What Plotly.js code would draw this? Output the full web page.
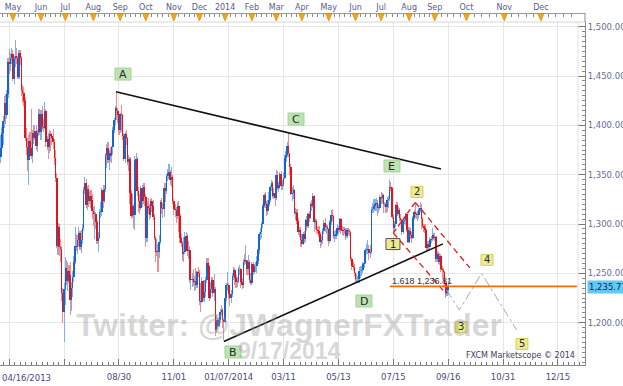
<!DOCTYPE html>
<html><head><meta charset="utf-8">
<script src="https://cdn.plot.ly/plotly-3.0.1.min.js"></script>
<style>html,body{margin:0;padding:0;background:#fff;}#chart{width:623px;height:386px;}</style>
</head><body><div id="chart"></div>
<script>
// Daily XAU/USD bars, index 0 = 04/16/2013 ... 368 = 09/16/2014
const openP = [
1352,1368,1377,1392,1404,1423,1411,1432,1464,1462,
1468,1472,1447,1467,1470,1468,1449,1473,1468,1436,
1433,1425,1387,1378,1365,1384,1377,1369,1392,1387,
1394,1379,1392,1412,1393,1412,1398,1397,1415,1383,
1386,1378,1391,1389,1387,1383,1367,1347,1278,1297,
1277,1275,1230,1211,1234,1255,1242,1252,1248,1223,
1235,1246,1262,1278,1277,1284,1291,1277,1284,1296,
1335,1342,1319,1336,1323,1328,1324,1313,1310,1310,
1302,1283,1286,1312,1312,1334,1323,1336,1370,1377,
1365,1372,1369,1378,1395,1405,1418,1415,1411,1395,
1412,1411,1389,1366,1391,1387,1363,1366,1331,1308,
1318,1309,1365,1366,1333,1323,1316,1337,1323,1338,
1327,1286,1318,1316,1309,1323,1318,1307,1286,1272,
1273,1272,1282,1322,1316,1315,1337,1333,1349,1352,
1353,1345,1348,1323,1315,1314,1308,1318,1308,1286,
1281,1270,1272,1287,1288,1273,1274,1243,1243,1244,
1241,1242,1238,1251,1250,1222,1221,1242,1225,1231,
1243,1261,1257,1225,1234,1243,1230,1234,1193,1203,
1197,1203,1211,1213,1203,1201,1225,1238,1238,1229,
1225,1229,1247,1253,1245,1241,1242,1254,1254,1241,
1238,1262,1264,1263,1254,1262,1243,1240,1260,1251,
1257,1257,1263,1274,1290,1292,1300,1318,1329,1320,
1313,1320,1324,1338,1342,1328,1331,1326,1350,1337,
1340,1351,1339,1340,1347,1367,1370,1379,1372,1358,
1330,1331,1335,1311,1311,1303,1292,1294,1284,1280,
1290,1285,1304,1298,1310,1306,1320,1318,1328,1302,
1303,1294,1293,1290,1282,1284,1293,1301,1297,1297,
1295,1283,1302,1309,1308,1288,1288,1290,1296,1294,
1305,1294,1293,1294,1294,1288,1294,1293,1292,1265,
1257,1256,1250,1244,1244,1244,1252,1252,1253,1260,
1261,1274,1274,1275,1271,1272,1314,1315,1318,1320,
1321,1316,1316,1327,1326,1329,1320,1320,1317,1324,
1325,1338,1337,1307,1296,1300,1319,1310,1314,1306,
1304,1292,1303,1304,1310,1294,1282,1293,1289,1286,
1306,1312,1310,1309,1309,1314,1316,1305,1298,1296,
1294,1276,1280,1277,1284,1285,1289,1286,1287,1265,
1270,1262,1268,1254,1253,1251,1240,1230,1233];
const highP = [
1386,1390,1398,1410,1430,1432,1436,1468,1477,1473,
1478,1476,1470,1487,1478,1470,1476,1476,1470,1441,
1439,1428,1397,1387,1390,1393,1417,1395,1400,1400,
1400,1395,1417,1417,1416,1420,1406,1424,1417,1389,
1392,1395,1394,1392,1396,1386,1375,1352,1301,1300,
1285,1278,1235,1240,1267,1264,1262,1258,1262,1241,
1252,1268,1297,1290,1289,1297,1293,1294,1300,1338,
1348,1346,1339,1340,1333,1334,1330,1317,1318,1312,
1304,1292,1315,1322,1337,1340,1340,1372,1381,1383,
1375,1378,1379,1398,1407,1420,1433,1418,1412,1413,
1421,1412,1392,1393,1395,1388,1370,1368,1334,1330,
1320,1369,1372,1368,1338,1330,1339,1340,1342,1342,
1330,1323,1326,1320,1325,1326,1324,1310,1288,1285,
1280,1289,1324,1326,1321,1342,1342,1351,1356,1361,
1355,1358,1350,1325,1320,1317,1322,1323,1310,1290,
1283,1287,1292,1292,1290,1283,1278,1250,1250,1254,
1247,1255,1252,1256,1253,1240,1246,1243,1243,1246,
1266,1266,1258,1241,1246,1246,1249,1236,1208,1206,
1205,1214,1218,1215,1204,1231,1240,1251,1240,1231,
1233,1250,1256,1255,1248,1246,1256,1258,1255,1245,
1265,1270,1279,1264,1269,1264,1250,1262,1262,1260,
1262,1268,1275,1292,1296,1302,1320,1331,1332,1323,
1324,1332,1340,1345,1344,1337,1333,1355,1354,1343,
1353,1354,1345,1352,1370,1374,1383,1392,1372,1361,
1338,1340,1336,1316,1315,1306,1297,1297,1290,1292,
1293,1305,1308,1311,1313,1322,1324,1331,1329,1306,
1305,1297,1298,1292,1288,1296,1304,1306,1300,1299,
1296,1304,1314,1315,1309,1293,1294,1300,1298,1306,
1306,1298,1297,1297,1296,1296,1296,1295,1293,1267,
1262,1260,1251,1249,1247,1256,1257,1257,1262,1264,
1276,1280,1284,1279,1279,1317,1321,1325,1325,1326,
1324,1320,1329,1332,1331,1330,1322,1321,1327,1328,
1345,1343,1338,1310,1303,1320,1322,1317,1316,1310,
1305,1305,1307,1311,1311,1297,1297,1296,1292,1308,
1314,1322,1312,1313,1316,1322,1320,1307,1300,1300,
1295,1283,1283,1287,1288,1296,1291,1291,1288,1273,
1272,1271,1270,1257,1255,1252,1242,1238,1242];
const lowP = [
1331,1362,1368,1380,1397,1401,1406,1428,1452,1455,
1462,1445,1442,1459,1462,1447,1447,1461,1430,1423,
1420,1384,1370,1354,1340,1372,1366,1362,1381,1385,
1375,1373,1389,1390,1385,1395,1393,1396,1378,1375,
1366,1372,1374,1380,1376,1360,1343,1276,1269,1268,
1262,1222,1200,1180,1218,1238,1232,1240,1208,1212,
1226,1241,1259,1273,1270,1278,1274,1271,1280,1293,
1330,1316,1314,1317,1320,1316,1305,1298,1285,1295,
1280,1272,1285,1306,1308,1316,1321,1332,1357,1362,
1355,1363,1362,1370,1392,1400,1405,1402,1390,1392,
1393,1385,1364,1362,1380,1360,1354,1320,1306,1306,
1296,1294,1360,1328,1312,1310,1314,1317,1320,1318,
1277,1282,1310,1304,1306,1312,1304,1284,1262,1268,
1251,1266,1280,1310,1306,1307,1322,1330,1344,1346,
1340,1338,1320,1309,1307,1301,1305,1292,1281,1277,
1263,1262,1270,1278,1268,1265,1240,1233,1236,1237,
1232,1233,1235,1246,1218,1211,1220,1222,1221,1226,
1240,1253,1222,1224,1230,1226,1222,1187,1190,1194,
1196,1200,1208,1195,1182,1200,1222,1232,1224,1217,
1220,1226,1243,1238,1235,1236,1240,1248,1235,1234,
1235,1258,1260,1248,1248,1240,1238,1238,1248,1249,
1251,1250,1260,1270,1284,1286,1296,1316,1316,1308,
1309,1318,1322,1333,1326,1325,1318,1324,1334,1332,
1336,1334,1335,1338,1346,1363,1368,1368,1350,1329,
1323,1325,1309,1304,1300,1289,1287,1277,1277,1279,
1281,1282,1293,1296,1302,1305,1313,1316,1292,1295,
1291,1290,1287,1276,1278,1280,1290,1292,1290,1283,
1278,1281,1299,1303,1285,1282,1285,1288,1290,1292,
1290,1289,1288,1290,1284,1286,1289,1288,1263,1253,
1252,1247,1241,1240,1240,1240,1245,1247,1250,1255,
1259,1270,1270,1264,1266,1270,1311,1311,1313,1313,
1308,1311,1314,1320,1321,1311,1317,1311,1312,1316,
1323,1333,1305,1291,1293,1297,1308,1309,1303,1302,
1289,1290,1300,1299,1292,1281,1281,1285,1281,1285,
1304,1306,1305,1303,1305,1312,1295,1296,1292,1291,
1273,1273,1274,1275,1281,1283,1284,1283,1262,1262,
1260,1258,1251,1245,1244,1237,1225,1227,1228];
const closeP = [
1368,1377,1392,1404,1423,1411,1432,1464,1462,1468,
1472,1447,1467,1470,1468,1449,1473,1468,1436,1433,
1425,1387,1378,1365,1384,1377,1369,1392,1387,1394,
1379,1392,1412,1393,1412,1398,1397,1415,1383,1386,
1378,1391,1389,1387,1383,1367,1347,1278,1297,1277,
1275,1230,1211,1234,1255,1242,1252,1248,1223,1235,
1246,1262,1278,1277,1284,1291,1277,1284,1296,1335,
1342,1319,1336,1323,1328,1324,1313,1310,1310,1302,
1283,1286,1312,1312,1334,1323,1336,1370,1377,1365,
1372,1369,1378,1395,1405,1418,1415,1411,1395,1412,
1411,1389,1366,1391,1387,1363,1366,1331,1308,1318,
1309,1365,1366,1333,1323,1316,1337,1323,1338,1327,
1286,1318,1316,1309,1323,1318,1307,1286,1272,1273,
1272,1282,1322,1316,1315,1337,1333,1349,1352,1353,
1345,1348,1323,1315,1314,1308,1318,1308,1286,1281,
1270,1272,1287,1288,1273,1274,1243,1243,1244,1241,
1242,1238,1251,1250,1222,1221,1242,1225,1231,1243,
1261,1257,1225,1234,1243,1230,1234,1193,1203,1197,
1203,1211,1213,1203,1201,1225,1238,1238,1229,1225,
1229,1247,1253,1245,1241,1242,1254,1254,1241,1238,
1262,1264,1263,1254,1262,1243,1240,1260,1251,1257,
1257,1263,1274,1290,1292,1300,1318,1329,1320,1313,
1320,1324,1338,1342,1328,1331,1326,1350,1337,1340,
1351,1339,1340,1347,1367,1370,1379,1372,1358,1330,
1331,1335,1311,1311,1303,1292,1294,1284,1280,1290,
1285,1304,1298,1310,1306,1320,1318,1328,1302,1303,
1294,1293,1290,1282,1284,1293,1301,1297,1297,1295,
1283,1302,1309,1308,1288,1288,1290,1296,1294,1305,
1294,1293,1294,1294,1288,1294,1293,1292,1265,1257,
1256,1250,1244,1244,1244,1252,1252,1253,1260,1261,
1274,1274,1275,1271,1272,1314,1315,1318,1320,1321,
1316,1316,1327,1326,1329,1320,1320,1317,1324,1325,
1338,1337,1307,1296,1300,1319,1310,1314,1306,1304,
1292,1303,1304,1310,1294,1282,1293,1289,1286,1306,
1312,1310,1309,1309,1314,1316,1305,1298,1296,1294,
1276,1280,1277,1284,1285,1289,1286,1287,1265,1270,
1262,1268,1254,1253,1251,1240,1230,1233,1235.8];

// Axis ticks (bar index positions)
const bottomTickIdx = [8,53,98,143,188,233,278,323,368,413,458];
const bottomTickText = ['','','08/30','11/01','01/07/2014','03/11','05/13','07/15','09/16','10/31','12/15'];
const firstDateLabel = '04/16/2013';
const monthIdx = [11,34,54,77,99,120,143,164,185,207,227,248,270,292,313,336,357,383,414,444];
const monthText = ['May','Jun','Jul','Aug','Sep','Oct','Nov','Dec','2014','Feb','Mar','Apr','May','Jun','Jul','Aug','Sep','Oct','Nov','Dec'];

// Drawn analysis lines
const resistX = [95.5, 362.1], resistY = [1434, 1355.8];
const supportX = [184, 363.7], supportY = [1181, 1279.9];
const wave12X = [323, 341], wave12Y = [1291, 1322];
const chanLowX = [323, 366.5], chanLowY = [1291, 1229];
const chanUpX = [341, 385.8], chanUpY = [1322, 1255.5];
const projX = [366.7, 377.1, 395.4, 424.1], projY = [1233, 1212.9, 1250, 1192.6];
const fibLevel = 1236.81, fibStart = 320.2, fibEnd = 473.6;
const fibText = '1.618 1,236.81';
const lastPrice = 1235.77, lastPriceText = '1,235.77';

const letterText = ['A','B','C','D','E'];
const letterX = [101.3, 191.5, 243.2, 298.9, 321.9];
const letterY = [1452, 1170.3, 1406.4, 1222, 1358.8];
const waveText = ['1','2','3','4','5'];
const waveX = [322.7, 342.4, 378.5, 399.8, 428.5];
const waveY = [1279.7, 1332.5, 1195.7, 1263.6, 1178.5];

const idx = openP.map((_, i) => i);
const isUp = idx.map(i => closeP[i] >= openP[i]);
const wickBase = lowP.slice();
const wickLen = idx.map(i => highP[i] - lowP[i]);
const bodyBase = idx.map(i => Math.min(openP[i], closeP[i]));
const bodyLen = idx.map(i => Math.max(Math.abs(closeP[i] - openP[i]), 0.8));

const traces = [
  {type:'bar', x: idx, base: wickBase, y: wickLen, width: 0.9,
   marker:{color: isUp.map(u => u ? '#7fb1ea' : '#f08c8c'), line:{width:0}}, hoverinfo:'skip', showlegend:false},
  {type:'bar', x: idx, base: bodyBase, y: bodyLen, width: 1.3,
   marker:{color: isUp.map(u => u ? '#1764cc' : '#e5141c'), line:{width:0}}, hoverinfo:'skip', showlegend:false},
  {type:'scatter', mode:'lines', x: resistX, y: resistY, line:{color:'#111', width:1.6}, showlegend:false, hoverinfo:'skip'},
  {type:'scatter', mode:'lines', x: supportX, y: supportY, line:{color:'#111', width:1.6}, showlegend:false, hoverinfo:'skip'},
  {type:'scatter', mode:'lines', x: wave12X, y: wave12Y, line:{color:'#e5141c', width:1.3, dash:'5px,3px'}, showlegend:false, hoverinfo:'skip'},
  {type:'scatter', mode:'lines', x: chanLowX, y: chanLowY, line:{color:'#e5141c', width:1.3, dash:'6px,4px'}, showlegend:false, hoverinfo:'skip'},
  {type:'scatter', mode:'lines', x: chanUpX, y: chanUpY, line:{color:'#e5141c', width:1.3, dash:'6px,4px'}, showlegend:false, hoverinfo:'skip'},
  {type:'scatter', mode:'lines', x: projX, y: projY, line:{color:'#aaaaaa', width:1, dash:'dashdot'}, showlegend:false, hoverinfo:'skip'},
  {type:'scatter', mode:'lines', x: [fibStart, fibEnd], y: [fibLevel, fibLevel], line:{color:'#ff6a00', width:1.6}, showlegend:false, hoverinfo:'skip'},
  {type:'scatter', mode:'markers', x: [monthIdx[0]], y: [null], xaxis:'x2', yaxis:'y', showlegend:false, hoverinfo:'skip'}
];

// minor ticks on the top ruler: 5 divisions per month
const bounds = [-11].concat(monthIdx, [475]);
const topMinor = [];
for (let k = 0; k < bounds.length - 1; k++) {
  for (let j = 1; j < 5; j++) topMinor.push(bounds[k] + j * (bounds[k+1] - bounds[k]) / 5);
}

const shapes = [];
shapes.push({type:'line', xref:'paper', yref:'paper', x0:0, x1:1, y0:343/352, y1:343/352, line:{color:'#d6d6d6', width:1}});
shapes.push({type:'line', xref:'paper', yref:'paper', x0:578/585, x1:578/585, y0:0, y1:343/352, line:{color:'#e2e2e2', width:1}});
shapes.push({type:'line', xref:'paper', yref:'paper', x0:1, x1:1, y0:343/352, y1:1, line:{color:'#8c8c8c', width:1}});
monthIdx.forEach(m => {
  shapes.push({type:'path', xref:'x', yref:'paper',
    path:`M ${m-2.6},0.998 L ${m+2.6},0.998 L ${m},0.9773 Z`,
    fillcolor:'#f7a21b', line:{color:'#d98a10', width:0.6}});
});
letterText.forEach((t, k) => {
  shapes.push({type:'rect', xref:'x', yref:'y', xsizemode:'pixel', ysizemode:'pixel',
    xanchor: letterX[k], yanchor: letterY[k], x0:-8, x1:8, y0:-6, y1:6,
    fillcolor:'#bde3b2', line:{color:'#a3d296', width:1}, layer:'above'});
});
waveText.forEach((t, k) => {
  shapes.push({type:'rect', xref:'x', yref:'y', xsizemode:'pixel', ysizemode:'pixel',
    xanchor: waveX[k], yanchor: waveY[k], x0: k===0?-7:-6, x1: k===0?7:6, y0:-5.5, y1:5.5,
    fillcolor:'#ecec8c', line:{color: k===0 ? '#555555' : '#cfcf70', width:1}, layer:'above'});
});

const annotations = [];
letterText.forEach((t, k) => annotations.push({x: letterX[k], y: letterY[k], xref:'x', yref:'y', text: t, showarrow:false,
  xanchor:'center', yanchor:'middle', font:{family:'DejaVu Sans', size:11, color:'#2a2a2a'}}));
waveText.forEach((t, k) => annotations.push({x: waveX[k], y: waveY[k], xref:'x', yref:'y', text: t, showarrow:false,
  xanchor:'center', yanchor:'middle', font:{family:'DejaVu Sans', size:10, color:'#2a2a2a'}}));
annotations.push({x: fibStart, y: 1242.3, xref:'x', yref:'y', text: fibText, showarrow:false, xanchor:'left', yanchor:'middle',
  font:{family:'Liberation Sans', size:9, color:'#333'}});
annotations.push({x: 1, xref:'paper', xanchor:'left', xshift:2, y: lastPrice, yref:'y', yanchor:'middle', text: lastPriceText,
  showarrow:false, bgcolor:'#62c8f6', borderpad:1, font:{family:'DejaVu Sans', size:8.5, color:'#1d1d50'}});
annotations.push({x: 0, xref:'paper', xanchor:'left', y: (365-378)/352, yref:'paper', yanchor:'middle', text: firstDateLabel,
  showarrow:false, font:{family:'DejaVu Sans', size:8.5, color:'#4a4a7a'}});
annotations.push({x: 577/585, xref:'paper', xanchor:'right', y: (365-355)/352, yref:'paper', yanchor:'middle',
  text:'FXCM Marketscope © 2014', showarrow:false, font:{family:'DejaVu Sans', size:8, color:'#3c3c5c'}});
annotations.push({x: 289/585, xref:'paper', xanchor:'center', y: (365-325)/352, yref:'paper', yanchor:'middle',
  text:'<b>Twitter: @JWagnerFXTrader</b>', showarrow:false, font:{family:'Liberation Sans', size:32, color:'rgba(150,150,150,0.38)'}});
annotations.push({x: 289/585, xref:'paper', xanchor:'center', y: (365-351)/352, yref:'paper', yanchor:'middle',
  text:'<b>9/17/2014</b>', showarrow:false, font:{family:'Liberation Sans', size:23, color:'rgba(150,150,150,0.38)'}});

const layout = {
  width:623, height:386,
  margin:{l:0, r:38, t:13, b:21, pad:0},
  paper_bgcolor:'#fff', plot_bgcolor:'#fff',
  barmode:'overlay', bargap:0,
  showlegend:false, hovermode:false,
  font:{family:'DejaVu Sans', size:8.5, color:'#5a5a8a'},
  xaxis:{range:[0.41, 480.2], tickmode:'array', tickvals: bottomTickIdx, ticktext: bottomTickText,
    showgrid:true, gridcolor:'#e6e6e6', gridwidth:1, zeroline:false,
    ticks:'inside', ticklen:6, tickcolor:'#777', showline:true, linecolor:'#8a8a8a', linewidth:1,
    ticklabelstandoff:4, tickfont:{size:8.5, color:'#4a4a7a'},
    minor:{tick0:8, dtick:4.5, ticks:'inside', ticklen:3, tickcolor:'#777', showgrid:false},
    fixedrange:true},
  xaxis2:{overlaying:'x', side:'top', anchor:'free', position:1, range:[0.41, 480.2],
    tickmode:'array', tickvals: monthIdx, ticktext: monthText, ticks:'', showgrid:false, zeroline:false,
    showline:true, linecolor:'#9a9a9a', tickfont:{size:8, color:'#5a5a8a'},
    minor:{tickmode:'array', tickvals: topMinor, ticks:'inside', ticklen:3, tickcolor:'#8a8a8a', showgrid:false},
    fixedrange:true},
  yaxis:{domain:[0, 343/352], range:[1157.14, 1504.76], side:'right', tick0:0, dtick:50, tickformat:',.2f',
    showgrid:true, gridcolor:'#e6e6e6', zeroline:false, ticks:'inside', ticklen:7, tickcolor:'#777',
    showline:true, linecolor:'#8a8a8a', tickfont:{size:8.5, color:'#6a6a96'},
    minor:{dtick:5, ticks:'inside', ticklen:3, tickcolor:'#888', showgrid:false},
    fixedrange:true},
  shapes: shapes,
  annotations: annotations
};

Plotly.newPlot('chart', traces, layout, {staticPlot:true, displayModeBar:false});
</script>
</body></html>
